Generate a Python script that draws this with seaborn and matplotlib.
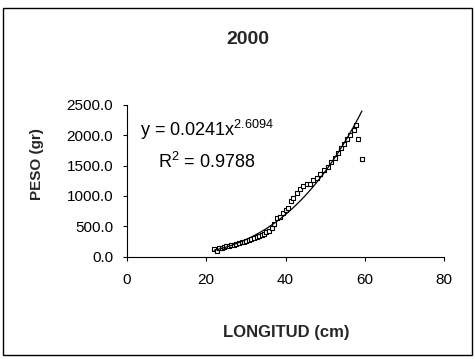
import numpy as np
import pandas as pd
import matplotlib
matplotlib.use("Agg")
import matplotlib.pyplot as plt
import seaborn as sns
from matplotlib.patches import Rectangle

# ---- data ----
longitud = [22.0, 22.6, 23.2, 23.9, 24.5, 25.1, 25.7, 26.3, 27.0, 27.6,
            28.2, 28.9, 29.5, 30.1, 30.8, 31.4, 32.0, 32.7, 33.3, 34.0,
            34.6, 35.2, 35.9, 36.5, 37.2, 37.9, 38.6, 39.3, 40.0, 40.6,
            41.3, 42.0, 42.8, 43.6, 44.4, 45.3, 46.1, 47.0, 47.9, 48.8,
            49.7, 50.6, 51.5, 52.4, 53.3, 54.1, 54.8, 55.6, 56.4, 57.2,
            57.9, 58.4, 59.3]
peso = [120, 100, 140, 150, 160, 175, 170, 190, 200, 215,
        225, 240, 245, 260, 275, 285, 300, 320, 335, 360,
        380, 400, 430, 470, 540, 640, 660, 720, 770, 800,
        920, 960, 1050, 1120, 1160, 1190, 1200, 1260, 1300, 1360,
        1420, 1480, 1560, 1620, 1710, 1790, 1860, 1930, 2000, 2080,
        2160, 1930, 1610]
title = "2000"
eq_text = "y = 0.0241x"
eq_exp = "2.6094"
r2_value = "0.9788"
x_ticks = [0, 20, 40, 60, 80]
y_ticks = [0, 500, 1000, 1500, 2000, 2500]

df = pd.DataFrame({"LONGITUD": longitud, "PESO": peso})

# power trendline fitted from the data
b, ln_a = np.polyfit(np.log(df["LONGITUD"]), np.log(df["PESO"]), 1)
xs = np.linspace(min(longitud), max(longitud), 200)
trend = pd.DataFrame({"x": xs, "y": np.exp(ln_a) * xs ** b})

sns.set_style("white")
plt.rcParams["font.family"] = ["Liberation Sans", "DejaVu Sans"]
plt.rcParams["mathtext.fontset"] = "custom"
plt.rcParams["mathtext.rm"] = "Liberation Sans"
plt.rcParams["mathtext.it"] = "Liberation Sans:italic"
plt.rcParams["mathtext.bf"] = "Liberation Sans:bold"

fig = plt.figure(figsize=(4.75, 3.59), dpi=100)
ax = fig.add_axes([127 / 475, 1 - 256.7 / 359, (444 - 127) / 475, (256.7 - 104.7) / 359])

sns.lineplot(data=trend, x="x", y="y", ax=ax, color="black", linewidth=0.9)
sns.scatterplot(data=df, x="LONGITUD", y="PESO", ax=ax, marker="s", s=8,
                facecolor="white", edgecolor="black", linewidth=0.8)

ax.set_xlim(0, 80)
ax.set_ylim(0, 2500)
ax.set_xticks(x_ticks)
ax.set_xticklabels([str(t) for t in x_ticks])
ax.set_yticks(y_ticks)
ax.set_yticklabels([f"{t:.1f}" for t in y_ticks])
ax.tick_params(axis="both", direction="out", length=3, width=0.8, color="black",
               labelsize=11, labelcolor="black")
ax.tick_params(axis="y", pad=7)
ax.tick_params(axis="x", pad=9)
ax.xaxis.set_ticks_position("bottom")
ax.yaxis.set_ticks_position("left")
for s in ["top", "right"]:
    ax.spines[s].set_visible(False)
for s in ["left", "bottom"]:
    ax.spines[s].set_color("black")
    ax.spines[s].set_linewidth(0.8)

ax.set_xlabel("LONGITUD (cm)", fontsize=12, fontweight="bold")
ax.set_ylabel("PESO (gr)", fontsize=11, fontweight="bold")
ax.xaxis.set_label_coords((286 - 127) / 317, -(325 - 256.7) / 152)
ax.yaxis.set_label_coords(-(127 - 44) / 317, (256.7 - 164) / 152)

ax.text(3.3, 2084, eq_text + r"$^{\mathrm{" + eq_exp + "}}$", fontsize=13,
        va="center", ha="left", color="black")
ax.text(7.8, 1557, r"R$^{\mathrm{2}}$ = " + r2_value, fontsize=13,
        va="center", ha="left", color="black")

fig.text(248 / 475, 1 - 40 / 359, title, fontsize=14, fontweight="bold",
         ha="center", va="center")

fig.patches.append(Rectangle((3 / 475, 1 - 355 / 359), 469 / 475, 347 / 359,
                             transform=fig.transFigure, fill=False,
                             edgecolor="black", linewidth=1.0))

fig.savefig("out.png", dpi=100)
